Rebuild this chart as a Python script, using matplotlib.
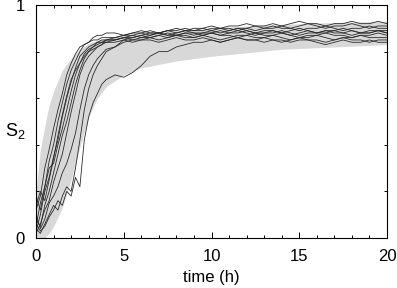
import numpy as np
import matplotlib
matplotlib.use("Agg")
import matplotlib.pyplot as plt
from matplotlib.ticker import MultipleLocator

plt.rcParams['font.family'] = ['Liberation Sans', 'DejaVu Sans']
plt.rcParams['mathtext.default'] = 'regular'

# grey band (spread of the ensemble)
band_t = [0, 0.25, 0.5, 0.75, 1.0, 1.5, 2.0, 2.5, 3.0, 3.5, 4.0, 5.0, 6.0, 8.0, 10.0, 12.0, 14.0, 17.0, 20.0]
band_hi = [0.20, 0.38, 0.48, 0.57, 0.63, 0.72, 0.77, 0.81, 0.835, 0.848, 0.858, 0.868, 0.877, 0.89, 0.90, 0.91, 0.917, 0.925, 0.93]
band_lo = [0.00, 0.00, 0.00, 0.02, 0.05, 0.13, 0.25, 0.39, 0.52, 0.60, 0.65, 0.70, 0.73, 0.76, 0.78, 0.795, 0.81, 0.82, 0.83]

# sampling times of the trajectories
t_early = np.arange(0, 4.01, 0.25)
t_late = np.arange(4.5, 20.01, 0.5)

early = [
    [0.12, 0.18, 0.30, 0.38, 0.47, 0.55, 0.62, 0.70, 0.75, 0.79, 0.82, 0.83, 0.84, 0.85, 0.85, 0.86, 0.86],
    [0.05, 0.15, 0.22, 0.33, 0.40, 0.50, 0.58, 0.66, 0.72, 0.76, 0.80, 0.83, 0.84, 0.86, 0.87, 0.87, 0.88],
    [0.03, 0.10, 0.20, 0.26, 0.35, 0.42, 0.52, 0.60, 0.67, 0.73, 0.78, 0.80, 0.82, 0.83, 0.84, 0.85, 0.85],
    [0.18, 0.12, 0.22, 0.30, 0.32, 0.40, 0.47, 0.55, 0.63, 0.70, 0.75, 0.79, 0.81, 0.82, 0.84, 0.84, 0.85],
    [0.08, 0.05, 0.14, 0.20, 0.28, 0.36, 0.44, 0.50, 0.58, 0.66, 0.72, 0.77, 0.80, 0.81, 0.82, 0.83, 0.84],
    [0.02, 0.06, 0.12, 0.16, 0.24, 0.30, 0.36, 0.45, 0.54, 0.62, 0.70, 0.75, 0.78, 0.80, 0.82, 0.83, 0.85],
    [0.10, 0.04, 0.08, 0.15, 0.18, 0.22, 0.28, 0.32, 0.38, 0.45, 0.55, 0.64, 0.70, 0.74, 0.77, 0.79, 0.81],
    [0.04, 0.02, 0.06, 0.10, 0.14, 0.12, 0.18, 0.22, 0.20, 0.30, 0.42, 0.55, 0.64, 0.70, 0.74, 0.77, 0.80],
    [0.06, 0.03, 0.05, 0.09, 0.12, 0.16, 0.14, 0.20, 0.18, 0.26, 0.22, 0.42, 0.52, 0.58, 0.62, 0.66, 0.68],
    [0.14, 0.20, 0.16, 0.25, 0.34, 0.44, 0.53, 0.61, 0.68, 0.72, 0.75, 0.78, 0.80, 0.82, 0.83, 0.84, 0.84],
]

late = [
    [0.86, 0.87, 0.87, 0.88, 0.87, 0.88, 0.89, 0.88, 0.89, 0.89, 0.90, 0.89, 0.90, 0.90, 0.89, 0.90,
     0.91, 0.90, 0.90, 0.91, 0.90, 0.91, 0.92, 0.91, 0.90, 0.91, 0.91, 0.92, 0.91, 0.90, 0.91, 0.91],
    [0.88, 0.87, 0.88, 0.89, 0.88, 0.88, 0.87, 0.88, 0.89, 0.88, 0.88, 0.89, 0.88, 0.89, 0.90, 0.89,
     0.88, 0.89, 0.89, 0.88, 0.89, 0.90, 0.89, 0.88, 0.89, 0.89, 0.90, 0.89, 0.88, 0.89, 0.89, 0.89],
    [0.85, 0.86, 0.85, 0.86, 0.86, 0.85, 0.86, 0.87, 0.86, 0.86, 0.87, 0.86, 0.85, 0.86, 0.87, 0.87,
     0.86, 0.86, 0.87, 0.86, 0.85, 0.86, 0.86, 0.87, 0.86, 0.85, 0.86, 0.86, 0.87, 0.86, 0.86, 0.86],
    [0.85, 0.86, 0.87, 0.86, 0.87, 0.88, 0.87, 0.87, 0.88, 0.87, 0.88, 0.88, 0.87, 0.88, 0.89, 0.88,
     0.87, 0.88, 0.88, 0.89, 0.88, 0.87, 0.88, 0.88, 0.89, 0.88, 0.88, 0.87, 0.88, 0.88, 0.89, 0.88],
    [0.84, 0.85, 0.84, 0.85, 0.85, 0.84, 0.85, 0.86, 0.85, 0.85, 0.86, 0.85, 0.84, 0.85, 0.86, 0.85,
     0.85, 0.84, 0.85, 0.85, 0.84, 0.85, 0.85, 0.84, 0.83, 0.84, 0.85, 0.84, 0.84, 0.85, 0.84, 0.84],
    [0.86, 0.87, 0.88, 0.88, 0.89, 0.88, 0.89, 0.89, 0.90, 0.89, 0.89, 0.90, 0.90, 0.89, 0.90, 0.90,
     0.89, 0.90, 0.91, 0.90, 0.90, 0.89, 0.90, 0.90, 0.91, 0.90, 0.89, 0.90, 0.90, 0.91, 0.90, 0.90],
    [0.82, 0.84, 0.85, 0.85, 0.86, 0.87, 0.86, 0.87, 0.87, 0.86, 0.87, 0.88, 0.87, 0.87, 0.86, 0.87,
     0.88, 0.87, 0.87, 0.88, 0.87, 0.86, 0.87, 0.87, 0.88, 0.87, 0.87, 0.86, 0.87, 0.87, 0.88, 0.87],
    [0.82, 0.85, 0.86, 0.87, 0.88, 0.88, 0.89, 0.90, 0.89, 0.90, 0.90, 0.91, 0.90, 0.91, 0.91, 0.92,
     0.91, 0.91, 0.92, 0.91, 0.92, 0.93, 0.92, 0.92, 0.91, 0.92, 0.92, 0.93, 0.92, 0.92, 0.93, 0.92],
    [0.70, 0.69, 0.71, 0.74, 0.78, 0.80, 0.80, 0.82, 0.83, 0.84, 0.84, 0.85, 0.84, 0.85, 0.86, 0.85,
     0.85, 0.86, 0.85, 0.84, 0.85, 0.86, 0.85, 0.85, 0.84, 0.85, 0.86, 0.85, 0.85, 0.84, 0.85, 0.85],
    [0.85, 0.86, 0.86, 0.87, 0.86, 0.87, 0.88, 0.87, 0.88, 0.88, 0.87, 0.88, 0.89, 0.88, 0.88, 0.89,
     0.88, 0.88, 0.89, 0.88, 0.87, 0.88, 0.89, 0.88, 0.88, 0.89, 0.88, 0.89, 0.88, 0.88, 0.89, 0.88],
]

fig = plt.figure(figsize=(3.97, 2.88), dpi=100)
ax = fig.add_axes([0.0907, 0.1736, 0.8841, 0.809])

ax.fill_between(band_t, band_lo, band_hi, color='#d8d8d8', lw=0, zorder=1)

t_all = np.concatenate([t_early, t_late])
for e, l in zip(early, late):
    ax.plot(t_all, e + l, color='#2a2a2a', lw=0.6, zorder=2)

ax.set_xlim(0, 20)
ax.set_ylim(0, 1)
ax.xaxis.set_major_locator(MultipleLocator(5))
ax.xaxis.set_minor_locator(MultipleLocator(1))
ax.set_yticks([0, 0.2, 0.4, 0.6, 0.8, 1.0])
ax.set_yticklabels(['0', '', '', '', '', '1'])
ax.tick_params(which='both', direction='in', top=True, right=True, width=0.7, labelsize=12, pad=8)
ax.tick_params(which='major', length=4)
ax.tick_params(which='minor', length=2.5)
ax.tick_params(axis='y', which='major', length=2.5)
for s in ax.spines.values():
    s.set_linewidth(0.8)

ax.set_xlabel('time (h)', fontsize=12, labelpad=4)
ax.set_ylabel('S$_2$', fontsize=13, rotation=0, va='center', ha='center')
ax.yaxis.set_label_coords(-0.06, 0.46)

fig.savefig('out.png', dpi=100)
